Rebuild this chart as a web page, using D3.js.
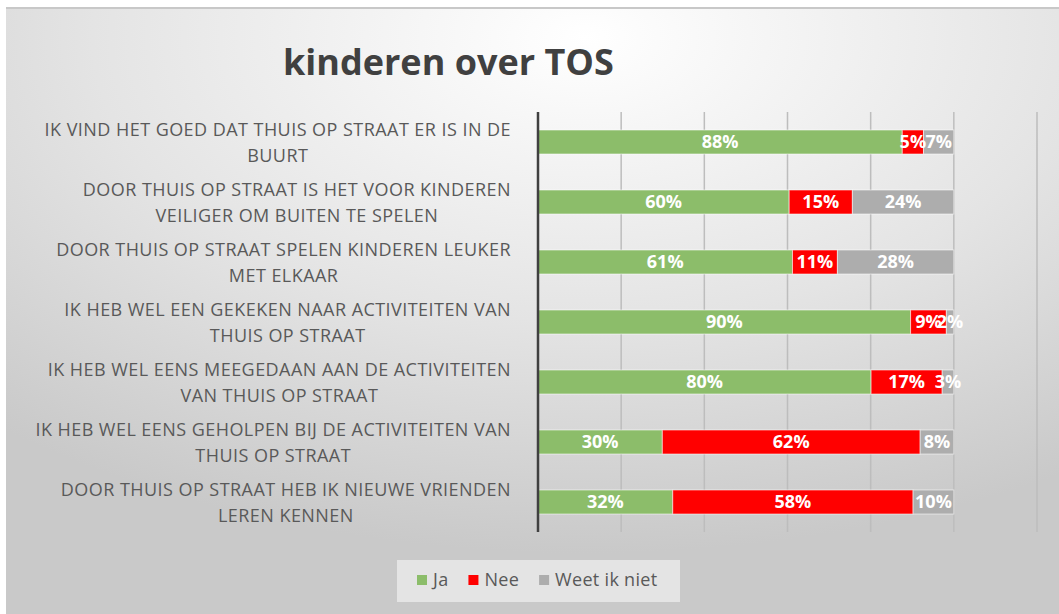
<!DOCTYPE html>
<html lang="nl">
<head>
<meta charset="utf-8">
<title>kinderen over TOS</title>
<script src="https://d3js.org/d3.v7.min.js"></script>
<style>
  body{margin:0;background:#fff;font-family:"Open Sans",sans-serif;}
  svg{display:block;}
</style>
</head>
<body>
<div id="chart"></div>
<script>
// categories (already split into the two lines shown on the chart)
var categories = [
  ["IK VIND HET GOED DAT THUIS OP STRAAT ER IS IN DE", "BUURT"],
  ["DOOR THUIS OP STRAAT IS HET VOOR KINDEREN", "VEILIGER OM BUITEN TE SPELEN"],
  ["DOOR THUIS OP STRAAT SPELEN KINDEREN LEUKER", "MET ELKAAR"],
  ["IK HEB WEL EEN  GEKEKEN NAAR ACTIVITEITEN VAN", "THUIS OP STRAAT"],
  ["IK HEB WEL EENS MEEGEDAAN AAN DE ACTIVITEITEN", "VAN THUIS OP STRAAT"],
  ["IK HEB WEL EENS GEHOLPEN BIJ DE ACTIVITEITEN VAN", "THUIS OP STRAAT"],
  ["DOOR THUIS OP STRAAT HEB IK NIEUWE VRIENDEN", "LEREN KENNEN"]
]
var ja    = [0.876, 0.604, 0.612, 0.896, 0.801, 0.299, 0.324]
var nee   = [0.051, 0.152, 0.108, 0.086, 0.171, 0.620, 0.578]
var weet  = [0.073, 0.244, 0.280, 0.018, 0.028, 0.081, 0.098]
var seriesNames = ["Ja", "Nee", "Weet ik niet"]
var seriesColors = ["#8cbd6a", "#ff0000", "#adadad"]
var gridTicks = [0.2, 0.4, 0.6, 0.8, 1.0, 1.2]

var W = 1059, H = 614
var svg = d3.select("#chart").append("svg").attr("width", W).attr("height", H)

// background with soft radial shading like the office chart area
var defs = svg.append("defs")
var grad = defs.append("radialGradient").attr("id", "bg")
  .attr("cx", "0.55").attr("cy", "0.05").attr("r", "0.85")
grad.append("stop").attr("offset", "0").attr("stop-color", "#ffffff")
grad.append("stop").attr("offset", "0.55").attr("stop-color", "#e4e4e4")
grad.append("stop").attr("offset", "1").attr("stop-color", "#c9c9c9")

svg.append("rect").attr("x", 6).attr("y", 7).attr("width", W - 6).attr("height", H - 7).attr("fill", "url(#bg)")
svg.append("line").attr("x1", 6).attr("x2", W).attr("y1", 8).attr("y2", 8)
  .attr("stroke", "#c8c8c8").attr("stroke-width", 2)

// title
svg.append("text").attr("x", 283).attr("y", 75)
  .attr("font-size", 36).attr("font-weight", "bold").attr("fill", "#404040")
  .text("kinderen over TOS")

var x = d3.scaleLinear().domain([0, 1.2]).range([538, 1037])
var y = d3.scaleBand().domain(d3.range(categories.length)).range([112, 532])
  .paddingInner(0.6).paddingOuter(0.3)

// gridlines
svg.append("g").selectAll("line").data(gridTicks).enter().append("line")
  .attr("x1", function(d){ return x(d) }).attr("x2", function(d){ return x(d) })
  .attr("y1", 112).attr("y2", 532)
  .attr("stroke", "#bdbdbd").attr("stroke-width", 1.5)

// stacked data
var rows = categories.map(function(c, i){ return {ja: ja[i], nee: nee[i], weet: weet[i]} })
var stack = d3.stack().keys(["ja", "nee", "weet"])(rows)
var fmt = d3.format(".0%")

var layers = svg.append("g").selectAll("g").data(stack).enter().append("g")
  .attr("fill", function(d, i){ return seriesColors[i] })

layers.selectAll("rect").data(function(d){ return d }).enter().append("rect")
  .attr("x", function(d){ return x(d[0]) })
  .attr("y", function(d, i){ return y(i) })
  .attr("width", function(d){ return x(d[1]) - x(d[0]) })
  .attr("height", y.bandwidth())
  .attr("stroke", "rgba(255,255,255,0.55)").attr("stroke-width", 1)

// value labels
var labels = svg.append("g")
stack.forEach(function(layer){
  labels.selectAll(null).data(layer).enter().append("text")
    .attr("x", function(d){ return (x(d[0]) + x(d[1])) / 2 })
    .attr("y", function(d, i){ return y(i) + y.bandwidth() / 2 })
    .attr("dy", "0.36em")
    .attr("text-anchor", "middle")
    .attr("font-size", 18).attr("font-weight", "bold").attr("fill", "#ffffff")
    .text(function(d){ return fmt(d[1] - d[0]) })
})

// category axis
var yAxis = svg.append("g").attr("transform", "translate(538,0)")
  .call(d3.axisLeft(y).tickSize(0).tickFormat(""))
yAxis.select(".domain").attr("d", "M0,112V532").attr("stroke", "#404040").attr("stroke-width", 2.5)

var catG = svg.append("g")
categories.forEach(function(lines, i){
  var g = catG.append("g")
  var cy = y(i) + y.bandwidth() / 2
  lines.forEach(function(line, j){
    g.append("text").attr("x", 0)
      .attr("y", cy + 1 + (j - (lines.length - 1) / 2) * 26)
      .attr("dy", "0.35em").attr("text-anchor", "middle")
      .attr("font-size", 18).attr("letter-spacing", 0.45).attr("fill", "#595959")
      .text(line)
  })
  var maxW = d3.max(g.selectAll("text").nodes(), function(n){ return n.getComputedTextLength() })
  g.attr("transform", "translate(" + (511 - maxW / 2) + ",0)")
})

// legend
var lg = svg.append("g")
lg.append("rect").attr("x", 397).attr("y", 560).attr("width", 283).attr("height", 42).attr("fill", "#e4e4e4")
var lx = 417
seriesNames.forEach(function(name, i){
  lg.append("rect").attr("x", lx).attr("y", 575).attr("width", 10).attr("height", 10).attr("fill", seriesColors[i])
  var t = lg.append("text").attr("x", lx + 16).attr("y", 580).attr("dy", "0.35em")
    .attr("font-size", 18).attr("letter-spacing", 0.3).attr("fill", "#595959").text(name)
  lx = lx + 16 + t.node().getComputedTextLength() + 20
})
</script>
</body>
</html>
